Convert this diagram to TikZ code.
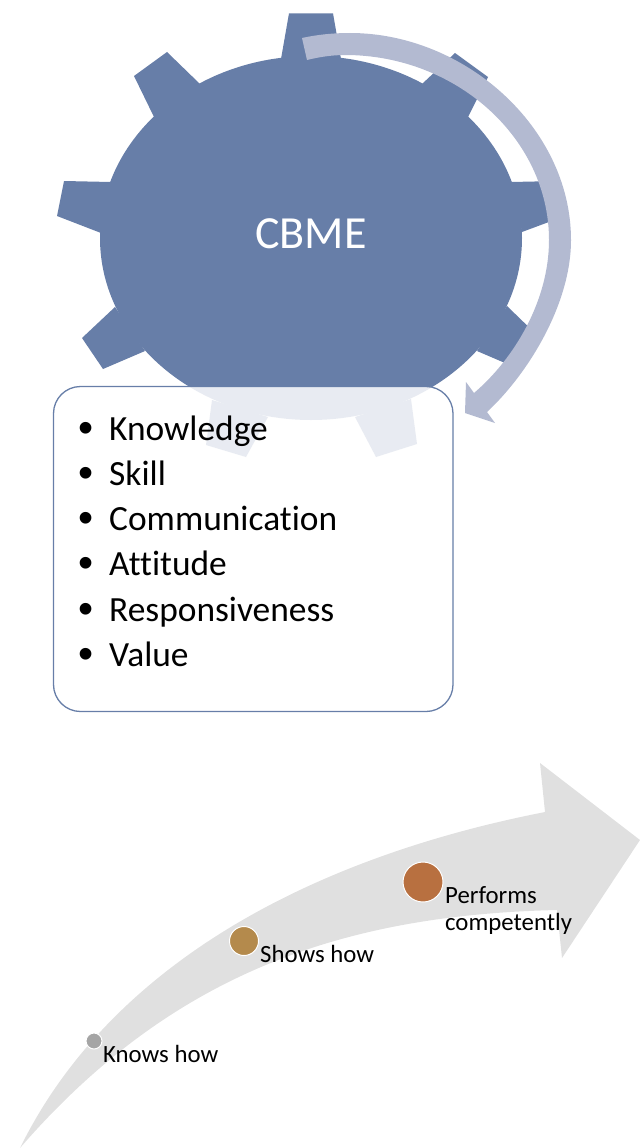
\documentclass[tikz,border=0pt]{standalone}
\usepackage{fontspec}
\setmainfont[Ligatures=NoCommon]{Carlito}
\newfontfamily\bulletfont{Liberation Sans}
\definecolor{gearblue}{HTML}{677EA8}
\definecolor{ringblue}{HTML}{B3BAD1}
\definecolor{swoosh}{HTML}{E0E0E0}
\definecolor{dotgray}{HTML}{A5A5A5}
\definecolor{dottan}{HTML}{B48A4C}
\definecolor{dotbrown}{HTML}{B87040}
\tikzset{
  gearpart/.style={fill=gearblue,draw=none},
  listtext/.style={inner sep=0pt,anchor=base west,font=\fontsize{35.4}{35.4}\selectfont},
  listbullet/.style={inner sep=0pt,anchor=base,yshift=-2pt,font=\bulletfont\fontsize{43}{43}\selectfont},
  labeltext/.style={inner sep=0pt,anchor=base west,font=\fontsize{24.8}{24.8}\selectfont},
  stagedot/.style={circle,draw=white,line width=1pt,inner sep=0pt}
}
\begin{document}
\begin{tikzpicture}[x=1pt,y=-1pt]
\useasboundingbox (0,0) rectangle (640,1148);
% gear
\fill[gearpart] (311,238) ellipse [x radius=211,y radius=182];
\fill[gearpart] (281,59) -- (289,13.3) -- (333,13.3) -- (341,59) -- cycle;
\fill[gearpart] (200,84) -- (167,52) -- (134,76) -- (154,117) -- cycle;
\fill[gearpart] (111,182) -- (64,181) -- (57,216) -- (101,233) -- cycle;
\fill[gearpart] (115,307) -- (82,338) -- (103,369) -- (145,351) -- cycle;
\fill[gearpart] (212,400) -- (206,445) -- (246,457) -- (268,417) -- cycle;
\fill[gearpart] (355,417) -- (376,457) -- (417,444) -- (411,399) -- cycle;
\fill[gearpart] (477,351) -- (519,369) -- (540,338) -- (507,306) -- cycle;
\fill[gearpart] (522,232) -- (565,216) -- (558,181) -- (511,182) -- cycle;
\fill[gearpart] (468,117) -- (488,77) -- (455,53) -- (422,84) -- cycle;
\node[text=white,inner sep=0pt,anchor=base,font=\fontsize{46}{46}\selectfont] (cbme) at (311,248) {CBME};
% circular arrow
\fill[ringblue] (302,38) .. controls (318,34.5) and (334,33) .. (350,33)
  .. controls (464,33) and (571,127) .. (571,240)
  .. controls (571,305) and (527,375) .. (487,412)
  -- (495,423) -- (465,413) -- (466,382) -- (474,393)
  .. controls (515,358) and (549,300) .. (549,240)
  .. controls (549,139) and (457,55) .. (345,55)
  .. controls (332,55) and (319,57) .. (307,60) -- cycle;
% list box
\path[draw=gearblue,line width=1.3pt,fill=white,fill opacity=0.85,rounded corners=27pt] (53.5,386.5) rectangle (453,711.5);
\foreach \nm/\yy/\txt in {a/440.3/Knowledge,b/485.5/Skill,c/530.5/Communication,d/575.8/Attitude,e/621/Responsiveness,f/666.2/Value}{
  \node[listbullet] (bul\nm) at (86,\yy) {•};
  \node[listtext] (item\nm) at (109,\yy) {\txt};
}
% swoosh arrow
\fill[swoosh] (20,1148) .. controls (110,965) and (310,858) .. (545,812)
  -- (540,763) -- (640,840) -- (562,958) -- (557,910)
  .. controls (340,915) and (170,975) .. (20,1148) -- cycle;
\node[stagedot,fill=dotgray,minimum size=16pt] (knowsdot) at (94,1041) {};
\node[stagedot,fill=dottan,minimum size=29pt] (showsdot) at (244,941) {};
\node[stagedot,fill=dotbrown,minimum size=40pt] (perfdot) at (423,882) {};
\node[labeltext] (knows) at (103,1062) {Knows how};
\node[labeltext] (shows) at (260,962) {Shows how};
\node[labeltext] (perf) at (445,903) {Performs};
\node[labeltext] (comp) at (445,930) {competently};
\end{tikzpicture}
\end{document}
